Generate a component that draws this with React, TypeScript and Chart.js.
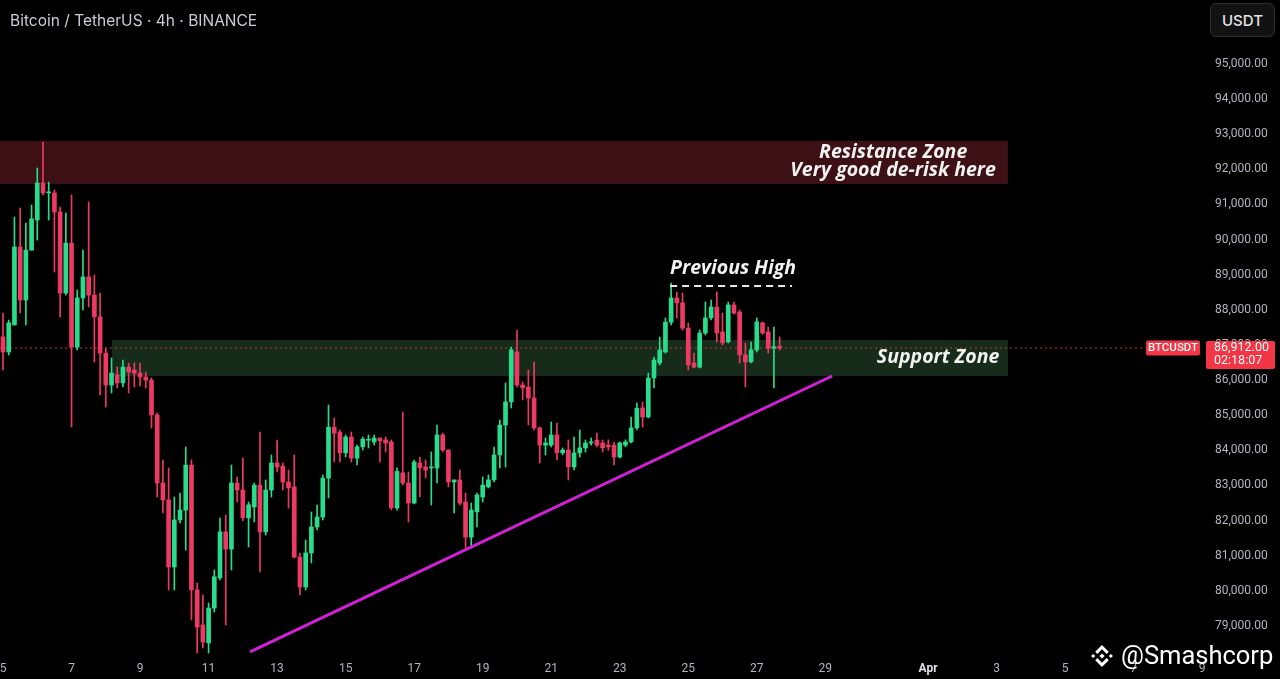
import React, { useEffect, useRef } from 'react';
import { Chart, registerables } from 'chart.js';

Chart.register(...registerables);

// ---- data -------------------------------------------------------------
// 4h candles, BTC/USDT (Binance). Time axis in days of March (Apr 1 = 32).
const START_DAY = 5; // Mar 5, 00:00
const FIRST_INDEX = -1; // first candle is Mar 4, 20:00
const CANDLES_PER_DAY = 6;

const OPEN = [
  88200, 87230, 86800, 87570, 89790, 88280, 89700, 90560, 91610, 91330,
  91330, 90790, 88480, 89900, 86940, 88340, 88940, 88420, 87800, 86770,
  85860, 86150, 85920, 86370, 86290, 86200, 86090, 86000, 85010, 83070,
  82590, 80680, 82020, 82300, 83580, 80030, 79030, 78520, 79510, 80370,
  81680, 81190, 83070, 82870, 82080, 82390, 83010, 81680, 82870, 83640,
  83550, 83100, 82960, 80960, 80110, 81080, 81820, 82100, 83210, 84660,
  84520, 83930, 84380, 83780, 84100, 84290, 84240, 84350, 84300, 84240,
  82360, 83360, 83070, 82500, 83640, 83530, 83500, 83500, 84440, 84010,
  83100, 83160, 82530, 81530, 82250, 82670, 82960, 83160, 83870, 84720,
  85380, 86800, 85860, 85800, 85490, 84640, 84150, 84150, 84440, 83930,
  84010, 83530, 83930, 84070, 84210, 84290, 84210, 84150, 84150, 83810,
  84150, 84240, 84640, 85210, 84950, 86060, 86490, 86800, 87650, 88340,
  88200, 87480, 86490, 86370, 87340, 87770, 88080, 87370, 87090, 88140,
  87940, 86720, 86520, 86860, 87630, 87370, 86910, 86960,
];
const HIGH = [
  88350, 87910, 87710, 90644, 90900, 90473, 90986, 92039, 92779, 91640,
  91413, 90929, 90758, 91270, 88566, 89705, 91071, 88993, 88480, 86914,
  86630, 86374, 86573, 86487, 86487, 86487, 86231, 86060, 85064, 83726,
  83498, 82672, 82786, 84096, 83726, 80224, 79882, 79654, 80594, 82075,
  82160, 83584, 83242, 83783, 82530, 83071, 84523, 83157, 83868, 84295,
  83641, 83441, 83868, 81078, 81448, 82245, 82445, 83299, 85292, 84922,
  84580, 84438, 84523, 84153, 84381, 84438, 84438, 84352, 84381, 84295,
  83500, 85093, 83384, 83726, 83811, 83726, 83954, 84722, 84494, 84011,
  83157, 83441, 82786, 82502, 82786, 83242, 83299, 84096, 84865, 85918,
  86943, 87427, 85947, 86288, 86516, 84665, 84352, 84808, 84780, 84068,
  84295, 84381, 84580, 84295, 84352, 84494, 84295, 84300, 84238, 84238,
  84300, 84950, 85349, 85377, 86203, 86658, 87228, 87769, 88765, 88509,
  88480, 87626, 86772, 87427, 88224, 88281, 88509, 87911, 88224, 88224,
  87996, 87057, 87086, 87769, 87655, 87513, 87513, 87228,
];
const LOW = [
  86300, 86290, 86715, 87570, 87910, 87570, 89700, 89989, 91270, 90558,
  89078, 87797, 88423, 84665, 86857, 87996, 88082, 86516, 85576, 85235,
  85633, 85776, 85804, 85633, 85804, 85833, 85776, 84637, 82672, 82217,
  80025, 80025, 81932, 81163, 79171, 78231, 78373, 78231, 79398, 80310,
  79028, 80594, 82530, 82000, 81249, 81961, 80537, 81590, 82672, 83384,
  82872, 82359, 80936, 79882, 80025, 80793, 81733, 82018, 82644, 83669,
  83669, 83811, 83669, 83584, 84011, 84068, 84153, 83669, 83954, 82302,
  82300, 83014, 81961, 82473, 82672, 83214, 82445, 83071, 83954, 82957,
  82217, 82445, 81220, 81220, 81818, 82530, 82929, 83100, 83498, 83527,
  85206, 85804, 85434, 84722, 84580, 83641, 83868, 84096, 83726, 83870,
  83157, 83441, 83811, 83954, 84150, 84096, 83954, 84000, 83584, 83783,
  84100, 84210, 84580, 84665, 84922, 85776, 86430, 86772, 87570, 87769,
  87427, 86288, 86345, 86345, 87285, 87712, 87086, 87000, 87057, 87880,
  86487, 85804, 86487, 86800, 87300, 86772, 85776, 86857,
];
const CLOSE = [
  86770, 86800, 87630, 89790, 88280, 89700, 90590, 91610, 91330, 91360,
  90790, 88480, 89900, 86940, 88340, 88940, 88420, 87800, 86770, 85860,
  86200, 85920, 86370, 86230, 86200, 86090, 86000, 85010, 83070, 82590,
  80680, 82020, 82300, 83580, 80030, 78970, 78540, 79510, 80400, 81680,
  81190, 83070, 82870, 82080, 82450, 83010, 81680, 82870, 83640, 83530,
  83100, 82930, 80960, 80110, 81080, 81820, 82100, 83210, 84660, 84490,
  83930, 84380, 83780, 84100, 84320, 84300, 84350, 84270, 84210, 82360,
  83400, 83070, 82500, 83670, 83500, 83440, 83530, 84440, 84010, 83100,
  83160, 82500, 81530, 82300, 82730, 83010, 83160, 83870, 84720, 85380,
  86860, 85860, 85780, 85490, 84640, 84150, 84210, 84440, 83930, 84010,
  83530, 83930, 84070, 84210, 84240, 84150, 84070, 84100, 83810, 84210,
  84240, 84640, 85200, 84950, 86060, 86570, 86860, 87650, 88340, 88200,
  87480, 86430, 86370, 87340, 87770, 88080, 87340, 87060, 88140, 87910,
  86720, 86520, 86860, 87660, 87340, 86910, 86950, 86912,
];

const X_TICKS = [5, 7, 9, 11, 13, 15, 17, 19, 21, 23, 25, 27, 29, 32, 34, 36, 38, 40];
const X_TICK_LABELS = ['5', '7', '9', '11', '13', '15', '17', '19', '21', '23', '25', '27', '29', 'Apr', '3', '5', '7', '9'];
const MONTH_TICK = 32;

const Y_TICKS = [
  79000, 80000, 81000, 82000, 83000, 84000, 85000, 86000, 87000,
  88000, 89000, 90000, 91000, 92000, 93000, 94000, 95000,
];

const X_MIN = 4.912;
const X_MAX = 40.14;
const Y_MIN = 78117;
const Y_MAX = 96822;

const RESISTANCE_ZONE_X = [4.912, 34.33];
const RESISTANCE_ZONE_Y = [91584, 92808];
const SUPPORT_ZONE_X = [8.18, 34.33];
const SUPPORT_ZONE_Y = [86117, 87142];

const TREND_LINE_X = [12.21, 29.2];
const TREND_LINE_Y = [78260, 86117];

const PREV_HIGH_X = [24.47, 28.03];
const PREV_HIGH_PRICE = 88680;

const LAST_PRICE = 86912;
const LAST_PRICE_TEXT = '86,912.00';
const COUNTDOWN_TEXT = '02:18:07';
const PRICE_LINE_END = 38.33;

const NOTE_TEXTS = ['Resistance Zone', 'Very good de-risk here', 'Support Zone', 'Previous High'];
const NOTE_X = [30.98, 30.98, 34.08, 24.47];
const NOTE_Y = [92495, 91982, 86658, 89192];
const NOTE_ALIGN: CanvasTextAlign[] = ['center', 'center', 'right', 'left'];

// ---- styles -------------------------------------------------------------
const UP = '#29dc8c';
const DOWN = '#ec3a64';
const RES_FILL = '#3d1016';
const SUP_FILL = '#162b19';
const TREND = '#d41fd8';
const LABEL_RED = '#f23645';
const AXIS_TEXT = '#b2b5be';
const FONT = 'Roboto, "Noto Sans", sans-serif';
const NOTE_FONT = '"Open Sans", "Noto Sans", sans-serif';

export default function App() {
  const ref = useRef<HTMLCanvasElement>(null);

  useEffect(() => {
    const canvas = ref.current;
    if (!canvas) return;

    const times = OPEN.map((_, k) => START_DAY + (FIRST_INDEX + k) / CANDLES_PER_DAY);
    const colors = OPEN.map((o, k) => (CLOSE[k] >= o ? UP : DOWN));
    const wicks = times.map((t, k) => ({ x: t, y: [LOW[k], HIGH[k]] }));
    const bodies = times.map((t, k) => ({
      x: t,
      y: [Math.min(OPEN[k], CLOSE[k]), Math.max(OPEN[k], CLOSE[k])],
    }));

    const overlay = {
      id: 'overlay',
      beforeDatasetsDraw(chart: any) {
        const { ctx, chartArea, scales } = chart;
        const xs = scales.x;
        const ys = scales.y;
        ctx.save();
        ctx.beginPath();
        ctx.rect(chartArea.left, chartArea.top, chartArea.right - chartArea.left, chartArea.bottom - chartArea.top);
        ctx.clip();
        const zone = (zx: number[], zy: number[], fill: string) => {
          const x0 = xs.getPixelForValue(zx[0]);
          const x1 = xs.getPixelForValue(zx[1]);
          const y0 = ys.getPixelForValue(zy[1]);
          const y1 = ys.getPixelForValue(zy[0]);
          ctx.fillStyle = fill;
          ctx.fillRect(x0, y0, x1 - x0, y1 - y0);
        };
        zone(RESISTANCE_ZONE_X, RESISTANCE_ZONE_Y, RES_FILL);
        zone(SUPPORT_ZONE_X, SUPPORT_ZONE_Y, SUP_FILL);
        ctx.restore();
      },
      afterDatasetsDraw(chart: any) {
        const { ctx, scales } = chart;
        ctx.save();
        ctx.font = `italic 700 19.5px ${NOTE_FONT}`;
        ctx.fillStyle = '#f2f2f2';
        ctx.textBaseline = 'middle';
        NOTE_TEXTS.forEach((t, k) => {
          ctx.textAlign = NOTE_ALIGN[k];
          ctx.fillText(t, scales.x.getPixelForValue(NOTE_X[k]), scales.y.getPixelForValue(NOTE_Y[k]));
        });
        ctx.restore();
      },
      afterDraw(chart: any) {
        const { ctx, chartArea, scales } = chart;
        const yp = Math.round(scales.y.getPixelForValue(LAST_PRICE));
        const r = chartArea.right;
        ctx.save();
        ctx.fillStyle = LABEL_RED;
        ctx.beginPath();
        (ctx as any).roundRect(r - 61, yp - 7.5, 54, 15, 2);
        ctx.fill();
        ctx.beginPath();
        (ctx as any).roundRect(r - 1, yp - 7, 69, 28, 2);
        ctx.fill();
        ctx.fillStyle = '#ffffff';
        ctx.textBaseline = 'middle';
        ctx.textAlign = 'center';
        ctx.font = `500 11.5px ${FONT}`;
        ctx.fillText('BTCUSDT', r - 34, yp + 0.5);
        ctx.textAlign = 'left';
        ctx.font = `12.5px ${FONT}`;
        ctx.fillText(LAST_PRICE_TEXT, r + 7, yp);
        ctx.fillText(COUNTDOWN_TEXT, r + 7, yp + 13);
        ctx.restore();
      },
    };

    const chart = new Chart(canvas, {
      type: 'bar',
      data: {
        datasets: [
          {
            type: 'line',
            data: TREND_LINE_X.map((x, k) => ({ x, y: TREND_LINE_Y[k] })),
            borderColor: TREND,
            borderWidth: 3,
            pointRadius: 0,
            order: 0,
          } as any,
          {
            type: 'line',
            data: PREV_HIGH_X.map((x) => ({ x, y: PREV_HIGH_PRICE })),
            borderColor: '#e6e6e6',
            borderWidth: 2,
            borderDash: [7, 5],
            pointRadius: 0,
            order: 1,
          } as any,
          {
            type: 'bar',
            data: bodies,
            backgroundColor: colors,
            barThickness: 4,
            minBarLength: 1,
            grouped: false,
            order: 2,
          } as any,
          {
            type: 'bar',
            data: wicks,
            backgroundColor: colors,
            barThickness: 1,
            minBarLength: 1,
            grouped: false,
            order: 3,
          } as any,
          {
            type: 'line',
            data: [
              { x: X_MIN, y: LAST_PRICE },
              { x: PRICE_LINE_END, y: LAST_PRICE },
            ],
            borderColor: 'rgba(242,54,69,0.85)',
            borderWidth: 1,
            borderDash: [2, 3],
            pointRadius: 0,
            order: 4,
          } as any,
        ],
      },
      options: {
        animation: false,
        responsive: false,
        events: [],
        layout: { padding: 0 },
        plugins: { legend: { display: false }, tooltip: { enabled: false } },
        scales: {
          x: {
            type: 'linear',
            min: X_MIN,
            max: X_MAX,
            offset: false,
            grid: { display: false, drawTicks: false, offset: false },
            border: { display: false },
            afterBuildTicks(scale: any) {
              scale.ticks = X_TICKS.map((value) => ({ value }));
            },
            afterFit(scale: any) {
              scale.height = 22;
              scale.paddingLeft = 0;
              scale.paddingRight = 0;
              scale.paddingTop = 0;
              scale.paddingBottom = 0;
            },
            ticks: {
              autoSkip: false,
              maxRotation: 0,
              minRotation: 0,
              padding: 5,
              callback: (_v: any, index: number) => X_TICK_LABELS[index],
              color: (c: any) => (c.tick && c.tick.value === MONTH_TICK ? '#e0e3eb' : AXIS_TEXT),
              font: (c: any) =>
                c.tick && c.tick.value === MONTH_TICK
                  ? { family: FONT, size: 12, weight: 'bold' }
                  : { family: FONT, size: 12 },
            },
          } as any,
          y: {
            type: 'linear',
            position: 'right',
            min: Y_MIN,
            max: Y_MAX,
            grid: { display: false, drawTicks: false },
            border: { display: false },
            afterBuildTicks(scale: any) {
              scale.ticks = Y_TICKS.map((value) => ({ value }));
            },
            afterFit(scale: any) {
              scale.width = 73;
              scale.paddingLeft = 0;
              scale.paddingRight = 0;
              scale.paddingTop = 0;
              scale.paddingBottom = 0;
            },
            ticks: {
              autoSkip: false,
              padding: 8,
              color: AXIS_TEXT,
              font: { family: FONT, size: 12 },
              callback: (v: any) =>
                Number(v).toLocaleString('en-US', { minimumFractionDigits: 2, maximumFractionDigits: 2 }),
            },
          } as any,
        },
      },
      plugins: [overlay],
    });

    return () => chart.destroy();
  }, []);

  return (
    <div
      style={{
        position: 'fixed',
        left: 0,
        top: 0,
        width: 1280,
        height: 679,
        background: '#000',
        overflow: 'hidden',
        fontFamily: FONT,
      }}
    >
      <canvas ref={ref} width={1280} height={679} style={{ position: 'absolute', left: 0, top: 0 }} />
      <div
        style={{
          position: 'absolute',
          left: 10,
          top: 11,
          color: '#c9ccd4',
          fontSize: 15.5,
          fontFamily: 'Inter, Roboto, sans-serif',
          whiteSpace: 'nowrap',
        }}
      >
        Bitcoin / TetherUS · 4h · BINANCE
      </div>
      <div
        style={{
          position: 'absolute',
          left: 1210,
          top: 3,
          width: 63,
          height: 32,
          border: '1px solid #2e2f33',
          borderRadius: 6,
          background: '#121212',
          color: '#e6e6e6',
          fontSize: 15,
          fontWeight: 500,
          fontFamily: 'Inter, Roboto, sans-serif',
          display: 'flex',
          alignItems: 'center',
          justifyContent: 'center',
        }}
      >
        USDT
      </div>
      <svg
        width={26}
        height={26}
        viewBox="0 0 100 100"
        style={{ position: 'absolute', left: 1089, top: 643 }}
      >
        <g fill="#ffffff">
          <polygon points="50,8 76,34 68,42 50,24 32,42 24,34" />
          <polygon points="50,92 24,66 32,58 50,76 68,58 76,66" />
          <polygon points="50,40 60,50 50,60 40,50" />
          <polygon points="16,42 24,50 16,58 8,50" />
          <polygon points="84,42 92,50 84,58 76,50" />
        </g>
      </svg>
      <div
        style={{
          position: 'absolute',
          left: 1121,
          top: 640,
          color: '#ffffff',
          fontSize: 25.5,
          whiteSpace: 'nowrap',
        }}
      >
        @Smashcorp
      </div>
    </div>
  );
}
